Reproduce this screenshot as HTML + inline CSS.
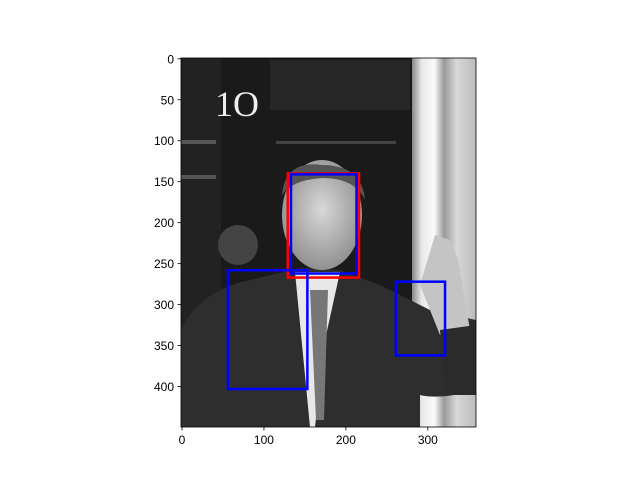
<!DOCTYPE html>
<html><head><meta charset="utf-8"><style>
html,body{margin:0;padding:0;background:#fff;}
svg text{font-family:"Liberation Sans","DejaVu Sans",sans-serif;font-size:12px;fill:#000;}
</style></head><body>
<svg id="chart" width="640" height="480" viewBox="0 0 640 480" xmlns="http://www.w3.org/2000/svg">
<defs>
<linearGradient id="pillar" x1="0" x2="1">
<stop offset="0" stop-color="#888"/><stop offset="0.15" stop-color="#e8e8e8"/><stop offset="0.35" stop-color="#fafafa"/><stop offset="0.5" stop-color="#9a9a9a"/><stop offset="0.7" stop-color="#d8d8d8"/><stop offset="1" stop-color="#bbb"/>
</linearGradient>
<radialGradient id="face" cx="0.5" cy="0.45" r="0.6"><stop offset="0" stop-color="#d8d8d8"/><stop offset="1" stop-color="#8a8a8a"/></radialGradient>
<clipPath id="imgclip"><rect x="181" y="58" width="295" height="369"/></clipPath>
</defs>
<g id="photo" clip-path="url(#imgclip)">
<rect x="181" y="58" width="295" height="369" fill="#1a1a1a"/>
<rect x="181" y="58" width="40" height="369" fill="#222"/>
<rect x="270" y="60" width="140" height="50" fill="#262626"/>
<rect x="181" y="140" width="35" height="4" fill="#555"/>
<rect x="181" y="175" width="35" height="4" fill="#555"/>
<rect x="276" y="141" width="120" height="3" fill="#444"/>
<rect x="412" y="58" width="64" height="369" fill="url(#pillar)"/>
<text x="215" y="116" style="font-size:36px;fill:#eee;font-family:'Liberation Serif',serif">1O</text>
<circle cx="238" cy="245" r="20" fill="#444"/>
<path d="M181 330 Q200 290 250 280 L300 268 L340 270 L380 285 Q410 300 430 310 L476 320 L476 390 Q440 400 420 395 L420 427 L181 427 Z" fill="#2e2e2e"/>
<path d="M295 272 L340 272 L325 340 L315 427 L310 427 Z" fill="#e8e8e8"/>
<path d="M310 290 L328 290 L324 420 L316 420 Z" fill="#777"/>
<ellipse cx="322" cy="215" rx="40" ry="55" fill="url(#face)"/>
<path d="M282 195 Q285 160 322 165 Q362 165 365 200 Q355 178 322 178 Q292 180 282 195Z" fill="#555"/>
<path d="M420 285 L435 235 L450 240 L458 260 L470 330 L440 335 Z" fill="#c4c4c4"/>
<path d="M440 330 L476 325 L476 395 L445 395 Z" fill="#2b2b2b"/>
</g>
<rect x="181" y="58" width="295" height="369" fill="none" stroke="#000" stroke-width="0.8"/>
<g id="boxes"></g>
<g id="xticks"></g>
<g id="yticks"></g>
</svg>
<script>
const xTicks=[0,100,200,300];
const yTicks=[0,50,100,150,200,250,300,350,400];
const boxNames=['face-box-red','face-box-blue','body-box','hand-box'];
const boxColors=['#ff0000','#0000ff','#0000ff','#0000ff'];
const boxX=[129,133,56,261];
const boxY=[140,141,258,272];
const boxW=[87,80,97,60];
const boxH=[127,121,145,90];
const X0=181.6,Y0=58.4,S=0.8194;
const sx=v=>X0+(v+0.5)*S, sy=v=>Y0+(v+0.5)*S;
const NS='http://www.w3.org/2000/svg';
const bg=document.getElementById('boxes');
for(let i=0;i<boxX.length;i++){
 const r=document.createElementNS(NS,'rect');
 r.setAttribute('x',sx(boxX[i]));r.setAttribute('y',sy(boxY[i]));
 r.setAttribute('width',boxW[i]*S);r.setAttribute('height',boxH[i]*S);
 r.setAttribute('fill','none');r.setAttribute('stroke',boxColors[i]);r.setAttribute('stroke-width','2.5');
 
 
 bg.appendChild(r);
}
const xg=document.getElementById('xticks');
xTicks.forEach(v=>{
 const x=sx(v);
 const l=document.createElementNS(NS,'line');
 l.setAttribute('x1',x);l.setAttribute('x2',x);l.setAttribute('y1',427);l.setAttribute('y2',430.5);l.setAttribute('stroke','#000');l.setAttribute('stroke-width','0.8');
 
 
 xg.appendChild(l);
 const t=document.createElementNS(NS,'text');
 t.setAttribute('x',x);t.setAttribute('y',444);t.setAttribute('text-anchor','middle');t.textContent=v;
 
 
 xg.appendChild(t);
});
const yg=document.getElementById('yticks');
yTicks.forEach(v=>{
 const y=sy(v);
 const l=document.createElementNS(NS,'line');
 l.setAttribute('x1',177.5);l.setAttribute('x2',181);l.setAttribute('y1',y);l.setAttribute('y2',y);l.setAttribute('stroke','#000');l.setAttribute('stroke-width','0.8');
 
 
 yg.appendChild(l);
 const t=document.createElementNS(NS,'text');
 t.setAttribute('x',174);t.setAttribute('y',y+4.5);t.setAttribute('text-anchor','end');t.textContent=v;
 
 
 yg.appendChild(t);
});
</script>
</body></html>
